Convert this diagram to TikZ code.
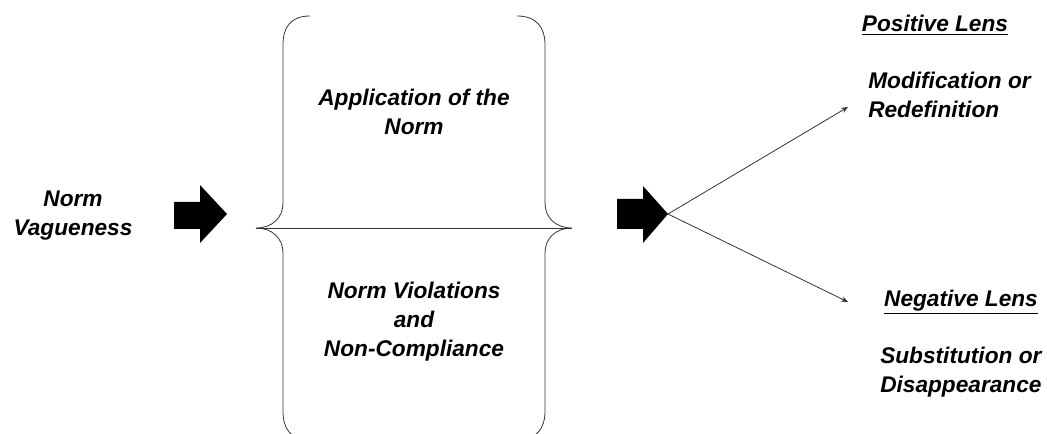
\documentclass[tikz,border=0pt]{standalone}
\usepackage{fontspec}
\setmainfont{Liberation Sans}
\usetikzlibrary{arrows.meta}
\tikzset{
	lbl/.style={font=\fontsize{17}{21.75}\selectfont\bfseries\itshape, inner sep=0pt},
	thin line/.style={draw=black!80, line width=0.6pt},
}
\begin{document}
\begin{tikzpicture}[x=0.75pt, y=-0.75pt]
		\clip (0,0) rectangle (1047,434);
		\node[lbl, align=center] (vague) at (73,216) {Norm\\Vagueness};
		\fill (174,202) -- (200,202) -- (200,185) -- (227,214) -- (200,243) -- (200,229) -- (174,229) -- cycle;
		\draw[thin line] (310,16) .. controls (290,16) and (283,28) .. (283,45) -- (283,203) .. controls (283,218) and (272,228) .. (256,228)
			.. controls (272,228) and (283,238) .. (283,253) -- (283,411) .. controls (283,428) and (290,440) .. (310,440);
		\draw[thin line] (517,16) .. controls (537,16) and (545,28) .. (545,45) -- (545,203) .. controls (545,218) and (556,228) .. (572,228)
			.. controls (556,228) and (545,238) .. (545,253) -- (545,411) .. controls (545,428) and (537,440) .. (517,440);
		\draw[thin line] (256,228) -- (572,228);
		\node[lbl, align=center] (apply) at (414,112) {Application of the\\Norm};
		\node[lbl, align=center] (viol) at (414,322) {Norm Violations\\and\\Non-Compliance};
		\fill (617,199) -- (643,199) -- (643,186) -- (668,214) -- (643,243) -- (643,229) -- (617,229) -- cycle;
		\coordinate (fork) at (668,214);
		\coordinate (up) at (848,107);
		\coordinate (down) at (848,302);
		\draw[thin line, -{Stealth[length=5pt, width=4pt]}] (fork) -- (up);
		\draw[thin line, -{Stealth[length=5pt, width=4pt]}] (fork) -- (down);
		\node[lbl] (poslens) at (935,25) {\underline{Positive Lens}};
		\node[lbl, align=left, anchor=west] (mod) at (868,95) {Modification or\\Redefinition};
		\node[lbl] (neglens) at (961,302) {\underline{Negative Lens}};
		\node[lbl, align=left, anchor=west] (subst) at (880,372) {Substitution or\\Disappearance};
	\end{tikzpicture}
\end{document}
